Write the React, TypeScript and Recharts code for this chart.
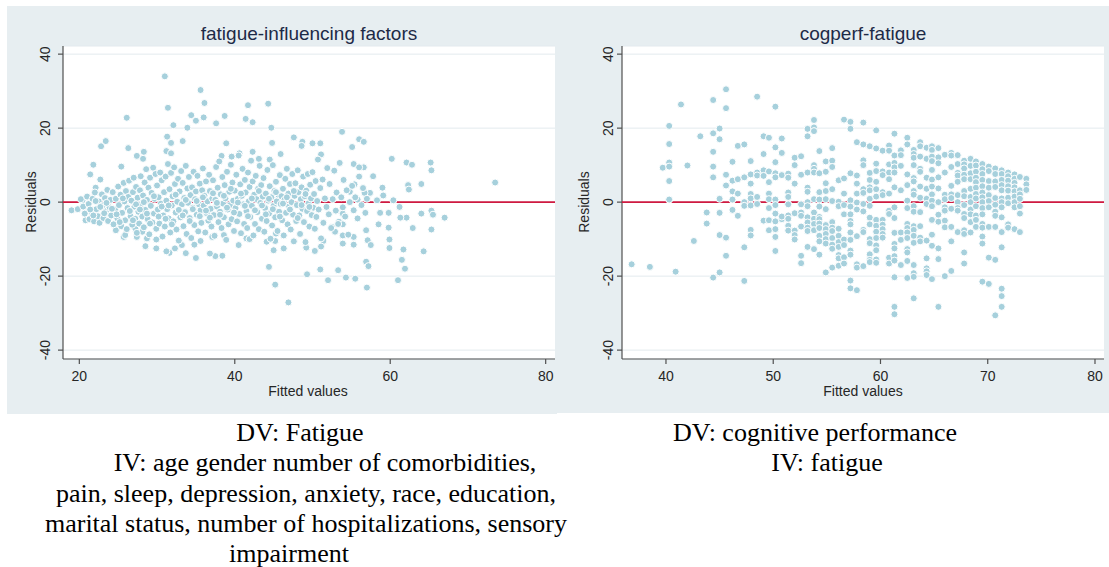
import React from "react";
import { CartesianGrid, Scatter, ScatterChart, XAxis, YAxis } from "recharts";

const panelTitles = ["fatigue-influencing factors", "cogperf-fatigue"];
const xAxisTitle = "Fitted values";
const yAxisTitle = "Residuals";
const residualTicks = [-40, -20, 0, 20, 40];
const fatigueTicks = [20, 40, 60, 80];
const cogTicks = [40, 50, 60, 70, 80];

// left panel, [fitted, residual]: points away from the band
const fatigueOuter: [number, number][] = [
  [19.0, -2.2], [19.8, -1.9], [20.4, 0.5], [20.8, -4.9], [21.4, 7.5], [21.8, 10.1],
  [22.1, 3.9], [22.8, 15.1], [23.4, 16.5], [22.7, 6.1], [26.1, 22.8], [26.3, 14.6],
  [25.4, 9.6], [27.4, 12.5], [28.3, 13.6], [28.2, 11.7], [31.0, 34.0], [31.4, 25.5],
  [32.1, 20.8], [31.3, 17.7], [31.8, 16.0], [31.2, 13.8], [31.8, 13.2], [33.3, 16.5],
  [33.9, 20.1], [34.4, 23.5], [35.0, 22.0], [35.6, 30.3], [36.1, 26.8], [36.0, 22.9],
  [37.6, 21.3], [38.7, 23.3], [38.9, 15.9], [38.3, 12.5], [39.6, 12.3], [40.6, 13.2],
  [41.7, 26.2], [41.4, 22.5], [42.3, 21.6], [42.3, 13.6], [43.1, 11.7], [44.3, 26.6],
  [44.7, 20.1], [44.8, 16.0], [44.5, 11.5], [45.9, 13.0], [47.6, 17.5], [48.7, 16.3],
  [48.6, 15.2], [50.0, 15.9], [51.0, 15.9], [51.1, 12.9], [53.8, 19.0], [55.1, 14.9],
  [56.0, 17.0], [56.6, 16.3], [60.2, 11.7], [62.1, 10.7], [62.8, 10.1], [65.2, 10.7],
  [65.3, 8.6], [64.0, 4.9], [62.3, 4.6], [62.4, 3.4], [73.5, 5.3], [67.0, -4.2],
  [65.3, -7.4], [65.3, -2.3], [65.5, -3.4], [64.0, -3.1], [64.3, -13.3], [62.9, -7.0],
  [62.1, -4.2], [61.3, -4.2], [61.7, -12.8], [61.5, -15.6], [61.9, -18.0], [61.0, -21.1],
  [59.9, -12.4], [59.9, -10.1], [59.8, -6.9], [59.8, -2.9], [60.4, 0.5], [61.2, -1.3],
  [58.5, -6.0], [58.7, -2.9], [59.1, 1.8], [59.0, 3.9], [58.3, 0.5], [57.8, 7.0],
  [57.4, 2.5], [56.7, 2.5], [56.6, 9.4], [56.0, 6.9], [55.8, 0.7], [55.4, 4.8],
  [55.3, 10.3], [54.8, 2.8], [56.9, -7.6], [57.1, -10.3], [57.5, -11.6], [56.9, -16.1],
  [57.2, -17.3], [57.0, -23.1], [55.5, -20.7], [54.3, -20.4], [53.3, -18.4], [52.0, -21.1],
  [51.0, -18.2], [49.3, -19.5], [46.9, -27.1], [45.2, -22.3], [44.4, -17.5], [45.0, -13.0],
  [50.3, -13.2], [49.2, -12.3], [51.4, -10.5], [51.1, -12.0], [53.9, -11.2], [55.3, -9.4],
  [55.3, -11.5], [53.9, -9.0], [52.5, -6.7], [53.9, -3.1], [53.4, -5.3], [53.9, -6.0],
  [52.9, -8.0], [46.3, -12.5], [45.2, -10.5], [45.3, -8.5], [44.1, -10.7], [40.5, -11.6],
  [41.5, -9.8], [41.9, -10.0], [38.6, -8.9], [38.4, -14.5], [37.5, -14.6], [36.8, -13.9],
  [35.0, -15.1], [33.7, -13.8], [32.3, -12.5], [31.6, -13.7], [31.2, -13.3], [29.9, -12.5],
  [28.5, -11.9], [29.9, -10.1], [33.2, -11.6], [34.8, -11.5], [35.6, -10.5], [37.1, -9.4],
  [25.7, -9.4], [25.9, -8.9], [24.7, -7.6], [27.2, -7.1], [28.1, -8.0], [27.4, -9.4],
  [28.7, -9.8],
];

// left panel, the crowded band round zero
const fatigueBand: [number, number][] = [
  [20.2, 0.8], [20.5, -1.2], [20.7, -3.1], [21.0, 1.5], [21.2, -0.5], [21.3, -4.6],
  [21.6, -2.7], [21.7, 0.9], [21.9, -5.2], [22.0, 2.6], [22.2, -1.9], [22.4, -3.8],
  [22.5, 0.2], [22.6, -5.6], [22.9, 2.1], [23.0, -0.9], [23.1, -4.3], [23.3, 1.1],
  [23.4, -2.5], [23.6, 3.3], [23.7, -5.1], [23.9, -1.4], [24.0, 0.6], [24.1, -3.6],
  [24.3, 2.7], [24.4, -6.0], [24.6, -2.0], [24.7, 0.9], [24.9, -4.4], [25.0, 4.2],
  [25.1, -0.8], [25.3, 2.0], [25.4, -6.5], [25.5, -2.9], [25.7, 5.2], [25.8, 0.2],
  [25.9, -4.9], [26.0, 3.0], [26.1, -7.3], [26.2, -1.6], [26.3, 1.4], [26.4, 5.8],
  [26.6, -3.8], [26.7, 0.4], [26.8, -6.1], [26.9, 2.7], [27.0, 6.6], [27.1, -1.2],
  [27.2, -4.5], [27.3, 4.1], [27.4, -8.3], [27.5, 1.2], [27.6, -2.6], [27.7, -5.8],
  [27.8, 3.2], [27.9, 7.0], [28.0, -0.5], [28.1, -3.9], [28.2, 1.8], [28.3, -6.8],
  [28.4, 5.3], [28.5, -2.1], [28.6, 8.9], [28.7, 0.6], [28.8, -4.6], [28.9, 3.9],
  [29.0, -8.7], [29.1, 6.6], [29.2, -1.0], [29.3, 2.5], [29.4, -5.5], [29.5, 9.3],
  [29.6, -3.1], [29.7, 0.9], [29.8, 7.6], [29.9, -7.2], [30.0, 4.5], [30.1, -2.0],
  [30.2, 1.3], [30.3, -5.8], [30.4, 8.0], [30.5, -0.4], [30.6, 5.9], [30.7, -9.3],
  [30.8, -3.6], [30.9, 2.7], [31.0, -6.6], [31.1, 6.9], [31.2, 0.4], [31.3, -1.9],
  [31.4, 10.3], [31.5, -4.4], [31.6, 3.5], [31.7, -8.2], [31.8, 7.9], [31.9, -0.9],
  [32.0, 1.6], [32.1, -5.2], [32.2, 9.4], [32.3, 4.9], [32.4, -2.8], [32.5, -7.4],
  [32.6, 0.1], [32.7, 6.3], [32.8, -10.4], [32.9, 2.9], [33.0, -4.1], [33.1, 8.4],
  [33.2, -0.6], [33.3, 5.2], [33.4, -6.5], [33.5, 1.1], [33.6, -2.7], [33.7, 9.8],
  [33.8, -8.6], [33.9, 3.7], [34.0, -0.2], [34.1, 6.8], [34.2, -4.3], [34.3, 1.9],
  [34.4, -9.7], [34.5, 4.0], [34.6, -1.5], [34.7, 8.2], [34.8, -6.2], [34.9, 0.8],
  [35.0, 2.9], [35.1, -3.4], [35.2, 7.1], [35.3, -7.9], [35.4, -0.6], [35.5, 5.0],
  [35.6, -2.2], [35.7, -5.6], [35.8, 3.2], [35.9, 9.1], [36.0, -0.9], [36.1, 1.7],
  [36.2, -8.2], [36.3, 5.6], [36.4, -3.0], [36.5, 0.2], [36.6, -5.0], [36.7, 7.4],
  [36.8, 3.0], [36.9, -1.8], [37.0, -6.6], [37.1, 1.0], [37.2, 5.9], [37.3, -3.5],
  [37.4, -9.1], [37.5, 0.6], [37.6, 9.5], [37.7, -1.2], [37.8, 3.9], [37.9, -5.4],
  [38.0, 11.0], [38.1, -2.6], [38.2, 2.1], [38.3, -7.0], [38.4, 6.8], [38.5, -0.4],
  [38.6, -4.1], [38.7, 4.6], [38.8, 1.0], [38.9, -10.2], [39.0, 8.2], [39.1, -2.0],
  [39.2, -6.0], [39.3, 2.8], [39.4, -0.8], [39.5, 10.1], [39.6, -4.6], [39.7, 5.3],
  [39.8, 0.4], [39.9, -7.8], [40.0, 3.1], [40.1, -1.6], [40.2, 7.4], [40.3, -5.2],
  [40.4, 0.9], [40.5, 12.6], [40.6, -3.2], [40.7, 4.8], [40.8, -8.4], [40.9, 1.7],
  [41.0, 9.0], [41.1, -0.6], [41.2, -5.9], [41.3, 6.0], [41.4, 2.6], [41.5, -2.4],
  [41.6, -7.0], [41.7, 8.0], [41.8, 0.2], [41.9, 4.1], [42.0, -4.0], [42.1, 11.2],
  [42.2, -1.0], [42.3, 5.6], [42.4, -9.0], [42.5, 2.0], [42.6, -5.9], [42.7, 7.1],
  [42.8, 0.8], [42.9, -2.7], [43.0, 3.6], [43.1, -7.3], [43.2, 9.8], [43.3, -0.2],
  [43.4, 4.6], [43.5, -4.5], [43.6, 1.5], [43.7, 6.5], [43.8, -8.0], [43.9, -1.6],
  [44.0, 2.3], [44.1, -5.1], [44.2, 8.7], [44.3, 0.4], [44.4, -3.1], [44.5, 4.3],
  [44.6, -9.9], [44.7, 1.3], [44.8, -6.3], [44.9, 10.0], [45.0, -1.0], [45.1, 3.0],
  [45.2, -4.1], [45.3, 5.5], [45.4, 0.2], [45.5, -7.8], [45.6, 2.0], [45.7, -2.6],
  [45.8, 7.3], [45.9, -0.5], [46.0, 1.6], [46.1, -4.9], [46.2, 3.6], [46.3, -9.0],
  [46.4, 0.6], [46.5, 6.3], [46.6, -2.9], [46.7, 9.0], [46.8, -6.0], [46.9, 2.3],
  [47.0, -1.2], [47.1, 4.9], [47.2, -7.4], [47.3, 0.0], [47.4, 7.6], [47.5, -3.4],
  [47.6, -10.6], [47.7, 1.7], [47.8, 5.1], [47.9, -5.1], [48.0, -0.8], [48.1, 8.6],
  [48.2, 2.7], [48.3, -3.6], [48.4, -8.6], [48.5, 0.8], [48.6, 4.0], [48.7, -1.8],
  [48.8, 6.9], [48.9, -5.4], [49.0, 1.6], [49.1, -10.8], [49.2, 3.1], [49.3, -2.4],
  [49.4, 7.6], [49.5, -0.3], [49.6, -6.6], [49.7, 4.7], [49.8, 1.0], [49.9, -3.5],
  [50.0, 8.1], [50.1, -1.5], [50.2, 2.2], [50.3, -7.2], [50.4, 5.7], [50.5, -4.0],
  [50.6, 0.3], [50.7, 11.5], [50.8, -2.0], [51.0, 3.8], [51.1, -9.8], [51.3, 6.1],
  [51.4, -5.6], [51.6, 1.0], [51.8, -1.3], [51.9, 9.2], [52.1, -3.3], [52.2, 4.9],
  [52.4, -7.0], [52.6, 0.8], [52.8, 8.5], [53.0, -2.3], [53.1, 2.6], [53.3, -5.9],
  [53.5, 10.6], [53.7, 1.3], [53.9, -1.4], [54.0, 6.0], [54.2, -3.9], [54.4, 3.2],
  [54.6, -8.8], [54.8, 0.0], [55.1, 4.4], [55.3, -2.2], [55.5, 1.3], [55.8, -4.4],
  [56.0, 9.4], [56.3, -0.8], [56.5, 3.8], [56.8, -2.9], [57.0, 0.9],
  [21.4, -2.0], [21.8, -3.6], [22.1, 0.3], [22.7, -1.3], [23.2, -3.0], [23.5, -0.2],
  [24.2, -1.8], [24.8, -3.3], [25.2, -5.4], [25.6, 1.0], [26.5, -2.4], [26.9, -4.9],
  [27.3, -0.6], [27.8, -2.0], [28.3, 0.0], [28.7, -3.1], [29.1, -5.8], [29.6, 1.6],
  [30.2, -3.9], [30.6, -1.2], [31.1, -4.5], [31.5, -0.9], [31.9, -6.0], [32.4, 2.0],
  [32.8, -2.1], [33.3, -3.6], [33.7, 0.6], [34.2, -5.1], [34.6, -1.9], [35.1, 0.3],
  [35.5, -3.8], [35.9, 1.3], [36.3, -2.3], [36.8, -4.2], [37.2, 2.4], [37.7, -0.2],
  [38.1, -3.4], [38.6, 1.7], [39.0, -1.5], [39.5, 3.6], [39.9, -2.8], [40.4, -0.1],
  [40.8, 2.3], [41.3, -1.0], [41.7, -3.8], [42.2, 1.0], [42.6, -2.2], [43.1, 3.0],
  [43.5, -0.9], [44.0, -3.3], [44.4, 0.9], [44.9, -1.9], [45.3, 2.7], [45.8, -3.9],
  [46.2, -0.4], [46.7, 1.3], [47.1, -2.0], [47.6, 3.0], [48.1, -4.3], [48.6, -0.8],
  [49.1, 2.2], [49.6, -1.3],
];

// right panel: fitted values fall on a few columns, residuals per column
const cogFitted = [
  36.8, 38.5, 39.7, 40.3, 40.9, 41.4, 42.0, 42.6, 43.2, 43.8, 44.4, 45.0, 45.6,
  46.2, 46.7, 47.3, 47.9, 48.5, 49.1, 49.6, 50.2, 50.8, 51.4, 52.0, 52.6, 53.2,
  53.8, 54.3, 54.9, 55.5, 56.1, 56.6, 57.2, 57.8, 58.4, 59.0, 59.6, 60.2, 60.8,
  61.3, 61.9, 62.5, 63.1, 63.7, 64.3, 64.8, 65.4, 66.0, 66.6, 67.2, 67.8, 68.4,
  68.9, 69.5, 70.1, 70.7, 71.3, 71.9, 72.5, 73.0, 73.6,
];

const cogResiduals: number[][] = [
  [-16.8],
  [-17.5],
  [9.3],
  [20.6, 15.7, 10.7, 9.6, 5.7, 0.7],
  [-18.8],
  [26.4],
  [9.9],
  [-10.5],
  [17.8],
  [-2.8, -5.8],
  [27.6, 18.6, 13.6, 9.6, 6.7, -20.4],
  [19.9, 17.0, 0.9, -2.9, -8.9, -19.0],
  [30.5, 25.4, 7.4, 4.5, -9.6, -14.5],
  [10.9, 5.8, 2.9, 0.7, -2.1],
  [15.2, 6.2, 2.3, -3.7],
  [15.6, 6.7, 0.0, -1.0, -12.2, -21.3],
  [11.1, 7.5, 5.0, 2.2, 1.0, -0.9, -7.5, -9.0],
  [28.5, 8.0, 7.2, 1.4, -0.5],
  [17.8, 13.0, 8.6, 7.1, -5.0],
  [17.4, 8.3, 5.4, 2.3, 0.8, -1.6, -4.9, -7.6],
  [25.8, 14.8, 10.8, 7.8, 6.7, 0.7, -0.8, -3.1, -5.2, -7.3, -9.4, -13.2],
  [17.2, 13.3, 7.3, -4.6, -3.9],
  [7.7, 6.6, 2.6, 1.4, -0.6, -3.6, -4.5, -6.4, -7.7],
  [12.0, 10.0, 5.0, -3.0, -7.7, -8.9, -10.1],
  [12.4, 7.4, -0.6, -2.8, -3.7, -6.6, -14.5, -16.5],
  [19.8, 17.8, 8.0, 3.9, 2.8, 0.0, -1.1, -4.1, -5.5, -6.9, -7.8, -12.1],
  [22.2, 20.2, 19.2, 10.0, 9.0, 8.0, 0.8, -2.8, -4.5, -5.9, -7.6, -12.7],
  [13.8, 7.8, 2.7, 0.7, -1.2, -4.0, -4.6, -5.8, -7.0, -9.1, -10.6, -14.2],
  [11.0, 8.2, 5.1, 3.0, 0.8, -1.9, -6.2, -7.3, -8.6, -10.0, -11.2, -19.0],
  [14.6, 11.2, 9.5, 3.5, 0.3, -5.4, -6.9, -7.8, -9.7, -11.5, -12.6, -17.7],
  [5.9, 0.1, -1.1, -7.2, -9.1, -10.8, -12.1, -14.3, -15.2, -17.2],
  [22.3, 6.4, 2.3, -0.8, -3.3, -10.1, -11.6, -14.9, -16.6],
  [21.7, 19.8, 7.8, 0.5, -1.2, -3.3, -5.1, -6.0, -8.2, -10.2, -13.1, -14.2, -21.2, -23.3],
  [16.2, 7.2, 5.0, 2.3, -0.1, -2.0, -9.2, -16.8, -17.7, -23.8],
  [21.5, 15.6, 11.3, 10.0, 3.5, 2.5, -0.5, -2.5, -7.5, -8.1, -17.3],
  [15.1, 7.9, 6.0, 4.0, 3.2, 0.9, -1.0, -4.2, -6.0, -10.0, -11.1, -14.1, -15.6, -16.2],
  [19.4, 14.5, 10.4, 8.4, 5.5, 3.5, 1.5, -4.8, -6.4, -8.0, -9.7, -11.7, -13.0, -15.5, -16.4],
  [13.9, 8.3, 7.3, 2.7, 1.9, -4.8, -6.1, -7.3, -8.6, -9.6],
  [15.3, 13.9, 10.2, 8.0, 6.2, 2.3, -2.3, -3.2, -15.0, -16.6],
  [18.5, 12.6, 10.6, 9.4, 8.0, 4.0, -1.4, -4.3, -8.3, -11.3, -12.5, -14.6, -15.8, -20.3, -28.3, -30.3],
  [14.0, 12.7, 9.8, 3.2, -8.2, -10.2, -17.0],
  [17.4, 15.6, 7.5, 4.6, 0.4, -1.6, -5.9, -7.0, -8.2, -9.7, -12.7, -13.6, -15.9, -20.5],
  [14.1, 13.0, 12.0, 10.0, 6.5, 5.6, 3.0, 2.0, -1.1, -2.6, -6.5, -7.5, -9.1, -11.0, -17.0, -19.2, -20.2, -26.0],
  [16.2, 15.1, 12.3, 9.0, 8.2, 4.2, 1.2, -2.7, -6.5, -9.6, -10.6],
  [14.7, 11.7, 6.6, 3.6, 0.9, -0.5, -10.4, -15.2, -17.9, -18.7, -19.7],
  [15.1, 14.1, 12.3, 11.1, 8.7, 6.1, 4.2, 2.1, 0.4, -1.1, -4.8, -8.8, -11.8, -20.8],
  [14.6, 12.1, 10.5, 6.7, 3.7, 0.0, -3.4, -5.3, -12.5, -15.4, -28.3],
  [12.8, 8.0, 2.0, 0.8, -1.4, -2.3, -5.0, -6.8, -20.0],
  [13.3, 12.6, 9.5, 4.4, 2.1, 1.1, -1.8, -6.7, -10.6, -18.6],
  [12.7, 10.3, 7.9, 7.2, 5.5, 1.9, 0.0, -1.6, -2.3, -8.1],
  [11.2, 10.2, 9.1, 7.4, 6.2, 3.0, 1.6, -0.8, -3.2, -4.3, -7.6, -8.6, -13.6, -16.6],
  [11.7, 9.8, 7.8, 6.2, 3.6, 1.4, 0.0, -2.0, -3.3, -5.4, -8.2],
  [11.0, 9.9, 8.2, 6.6, 5.4, 3.9, 2.2, 1.0, -1.1, -3.6, -4.8, -6.7],
  [10.3, 8.9, 7.6, 6.0, 4.3, 2.6, 1.3, 0.0, -1.6, -3.3, -5.9, -6.9, -9.3, -11.2, -21.5],
  [9.6, 8.4, 5.7, 3.9, 1.9, 0.3, -1.4, -6.7, -15.0, -22.1],
  [9.1, 7.6, 5.6, 4.1, 1.1, -0.7, -2.6, -3.7, -6.7, -15.6, -30.6],
  [8.6, 7.6, 6.0, 4.6, 3.2, 1.0, 0.0, -1.4, -4.1, -8.1, -12.2, -23.4, -25.4, -28.3],
  [8.0, 7.0, 5.8, 4.3, 3.1, 1.2, -0.3, -6.0, -6.9],
  [7.5, 6.3, 5.2, 4.0, 2.9, 1.5, 0.0, -1.4, -7.3],
  [6.8, 3.2, 2.1, 0.9, -1.1, -3.1, -8.1],
  [6.3, 4.8, 3.3],
];

const leftCaption = [
  "DV: Fatigue",
  "IV: age gender number of comorbidities,",
  "pain, sleep, depression, anxiety, race, education,",
  "marital status, number of hospitalizations, sensory",
  "impairment",
];
const rightCaption = ["DV: cognitive performance", "IV: fatigue"];

const fatiguePoints = [...fatigueOuter, ...fatigueBand].map(([x, y]) => ({ x, y }));
const cogPoints = cogFitted.flatMap((x, i) => cogResiduals[i].map((y) => ({ x, y })));

const SANS = "'Liberation Sans', Arial, Helvetica, sans-serif";
const SERIF = "'Liberation Serif', 'Times New Roman', Times, serif";
const PANEL_BG = "#e7eef1";
const MARKER = "#a6d0dc";
const ZERO_LINE = "#cf1a40";
const AXIS_COLOR = "#505050";
const LABEL_COLOR = "#262626";
const TITLE_COLOR = "#1d2a47";

const CHART_H = 414;
const PLOT_TOP = 46;
const PLOT_BOTTOM = 359;

function Marker(props: any) {
  const { cx, cy } = props;
  if (cx == null || cy == null) return null;
  return <circle cx={cx} cy={cy} r={3.5} fill={MARKER} stroke="#ffffff" strokeWidth={1} />;
}

function NoMarker() {
  return <g />;
}

function ResidualPanel({
  left,
  width,
  plotLeft,
  plotRight,
  xDomain,
  xTicks,
  points,
  yTickX,
}: {
  left: number;
  width: number;
  plotLeft: number;
  plotRight: number;
  xDomain: [number, number];
  xTicks: number[];
  points: { x: number; y: number }[];
  yTickX: number;
}) {
  const yAxisW = 30;
  const xAxisH = 30;
  const margin = {
    top: PLOT_TOP,
    right: width - plotRight,
    bottom: CHART_H - PLOT_BOTTOM - xAxisH,
    left: plotLeft - yAxisW,
  };
  // zero line from one edge of the x range to the other, drawn under the points
  const zeroLine = [
    { x: xDomain[0], y: 0 },
    { x: xDomain[1], y: 0 },
  ];
  const xTick = (p: any) => (
    <text
      x={p.payload?.coordinate ?? p.x}
      y={381}
      textAnchor="middle"
      fontSize={14}
      fontFamily={SANS}
      fill={LABEL_COLOR}
    >
      {p.payload.value}
    </text>
  );
  const yTick = (p: any) => {
    const y = p.payload?.coordinate ?? p.y;
    return (
      <text
        x={yTickX}
        y={y}
        transform={`rotate(-90 ${yTickX} ${y})`}
        textAnchor="middle"
        dominantBaseline="central"
        fontSize={14}
        fontFamily={SANS}
        fill={LABEL_COLOR}
      >
        {p.payload.value}
      </text>
    );
  };
  return (
    <div style={{ position: "absolute", left, top: 0, width, height: CHART_H }}>
      <ScatterChart width={width} height={CHART_H} margin={margin}>
        <CartesianGrid vertical={false} fill="#ffffff" stroke="#e3eaee" strokeWidth={1} />
        <XAxis
          type="number"
          dataKey="x"
          domain={xDomain}
          ticks={xTicks}
          interval={0}
          allowDataOverflow
          height={xAxisH}
          tickSize={5}
          axisLine={{ stroke: AXIS_COLOR, strokeWidth: 1.2 }}
          tickLine={{ stroke: AXIS_COLOR, strokeWidth: 1.2 }}
          tick={xTick}
        />
        <YAxis
          type="number"
          dataKey="y"
          domain={[-42.4, 42.2]}
          ticks={residualTicks}
          interval={0}
          allowDataOverflow
          width={yAxisW}
          tickSize={5}
          axisLine={{ stroke: AXIS_COLOR, strokeWidth: 1.2 }}
          tickLine={{ stroke: AXIS_COLOR, strokeWidth: 1.2 }}
          tick={yTick}
        />
        <Scatter
          data={zeroLine}
          line={{ stroke: ZERO_LINE, strokeWidth: 1.6 }}
          shape={NoMarker}
          isAnimationActive={false}
        />
        <Scatter data={points} shape={Marker} isAnimationActive={false} />
      </ScatterChart>
    </div>
  );
}

export default function App() {
  return (
    <div
      style={{
        position: "absolute",
        left: 0,
        top: 0,
        width: 1109,
        height: 567,
        background: "#ffffff",
        overflow: "hidden",
      }}
    >
      <div style={{ position: "absolute", left: 7, top: 6, width: 550, height: 408, background: PANEL_BG }} />
      <div style={{ position: "absolute", left: 557, top: 6, width: 552, height: 407, background: PANEL_BG }} />

      <ResidualPanel
        left={0}
        width={557}
        plotLeft={63}
        plotRight={555}
        xDomain={[17.9, 81.2]}
        xTicks={fatigueTicks}
        points={fatiguePoints}
        yTickX={45}
      />
      <ResidualPanel
        left={557}
        width={552}
        plotLeft={65}
        plotRight={547}
        xDomain={[35.9, 80.84]}
        xTicks={cogTicks}
        points={cogPoints}
        yTickX={51}
      />

      <svg
        width={1109}
        height={567}
        style={{ position: "absolute", left: 0, top: 0, pointerEvents: "none" }}
      >
        <g fontFamily={SANS} textAnchor="middle">
          <text x={309} y={40} fontSize={19} fill={TITLE_COLOR}>{panelTitles[0]}</text>
          <text x={863} y={40} fontSize={19} fill={TITLE_COLOR}>{panelTitles[1]}</text>
          <text x={308} y={396} fontSize={14} fill={LABEL_COLOR}>{xAxisTitle}</text>
          <text x={863} y={396} fontSize={14} fill={LABEL_COLOR}>{xAxisTitle}</text>
          <text x={31} y={202} fontSize={14} fill={LABEL_COLOR} dominantBaseline="central" transform="rotate(-90 31 202)">
            {yAxisTitle}
          </text>
          <text x={584} y={202} fontSize={14} fill={LABEL_COLOR} dominantBaseline="central" transform="rotate(-90 584 202)">
            {yAxisTitle}
          </text>
        </g>
        <g fontFamily={SERIF} fontSize={26} fill="#000000" textAnchor="middle">
          {leftCaption.map((line, i) => (
            <text key={line} x={[300, 325, 306, 306, 289][i]} y={441 + i * 30.3}>
              {line}
            </text>
          ))}
          {rightCaption.map((line, i) => (
            <text key={line} x={[815, 827][i]} y={441 + i * 30.3}>
              {line}
            </text>
          ))}
        </g>
      </svg>
    </div>
  );
}
